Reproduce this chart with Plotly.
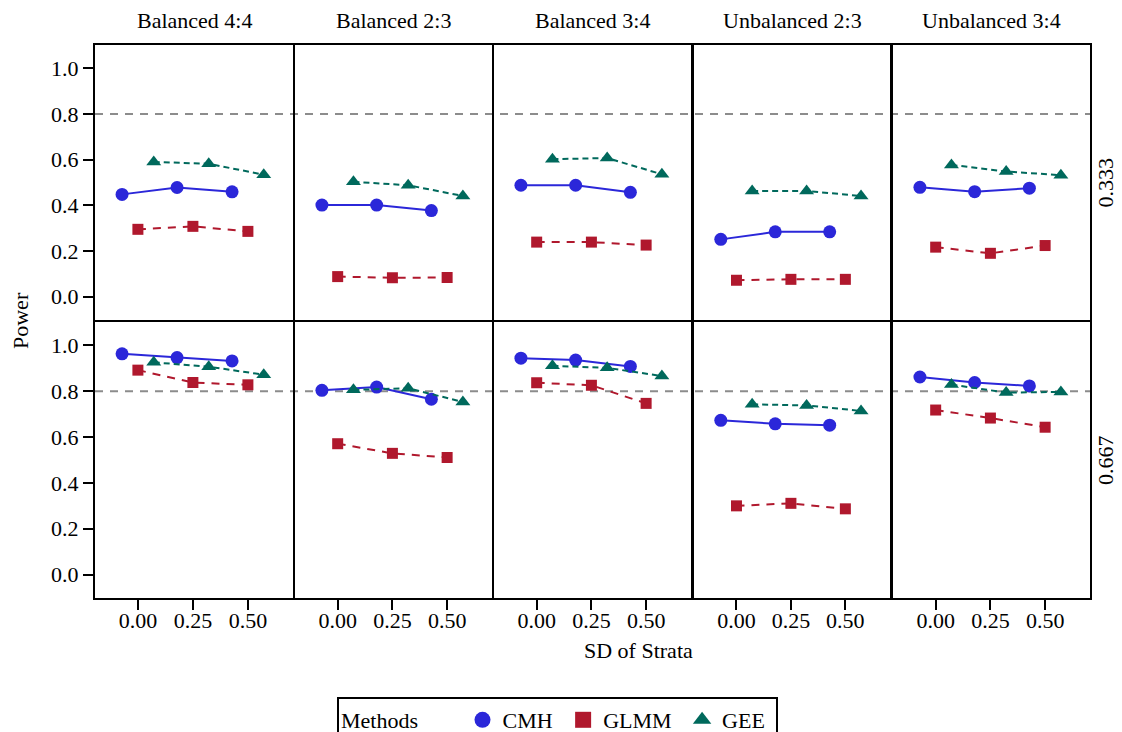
import plotly.graph_objects as go
from plotly.subplots import make_subplots

# Facet layout: columns = design, rows = allocation ratio
designs = ["Balanced 4:4", "Balanced 2:3", "Balanced 3:4", "Unbalanced 2:3", "Unbalanced 3:4"]
ratios = ["0.333", "0.667"]
sd_strata = [0.0, 0.25, 0.5]
sd_labels = ["0.00", "0.25", "0.50"]
power_ticks = [0.0, 0.2, 0.4, 0.6, 0.8, 1.0]
power_labels = ["0.0", "0.2", "0.4", "0.6", "0.8", "1.0"]
target_power = 0.8

# Power by design (outer list) and SD of strata (inner list)
cmh_333 = [[0.448, 0.478, 0.459], [0.401, 0.401, 0.377], [0.488, 0.488, 0.457],
           [0.251, 0.284, 0.284], [0.479, 0.460, 0.475]]
glmm_333 = [[0.295, 0.308, 0.286], [0.088, 0.083, 0.084], [0.239, 0.239, 0.226],
            [0.072, 0.076, 0.076], [0.217, 0.190, 0.224]]
gee_333 = [[0.590, 0.582, 0.534], [0.503, 0.488, 0.441], [0.602, 0.607, 0.536],
           [0.463, 0.463, 0.441], [0.577, 0.548, 0.532]]

cmh_667 = [[0.963, 0.947, 0.932], [0.804, 0.818, 0.765], [0.944, 0.936, 0.908],
           [0.673, 0.658, 0.652], [0.862, 0.838, 0.823]]
glmm_667 = [[0.892, 0.838, 0.828], [0.571, 0.529, 0.511], [0.837, 0.826, 0.747],
            [0.300, 0.311, 0.287], [0.718, 0.683, 0.643]]
gee_667 = [[0.926, 0.907, 0.872], [0.806, 0.813, 0.753], [0.911, 0.902, 0.866],
           [0.743, 0.738, 0.714], [0.829, 0.794, 0.797]]

W, H = 1122, 732
FONT = "Liberation Serif, Times New Roman, Times, serif"

methods = {
    "CMH": dict(data=[cmh_333, cmh_667], color="#2B27D9", symbol="circle", size=13,
                dash="solid", offset=-0.072),
    "GLMM": dict(data=[glmm_333, glmm_667], color="#B0182D", symbol="square", size=11,
                 dash="8px,7px", offset=0.0),
    "GEE": dict(data=[gee_333, gee_667], color="#00695C", symbol="triangle-up", size=13,
                dash="6px,4px", offset=0.072),
}

# panel edges in pixels
col_px = [(95, 293), (295, 492), (494, 691), (694, 890), (893, 1090)]
row_px = [(45, 320), (322, 598)]

fig = make_subplots(rows=2, cols=5)

for r in range(2):
    for c in range(5):
        for name, m in methods.items():
            fig.add_trace(
                go.Scatter(
                    x=[s + m["offset"] for s in sd_strata],
                    y=m["data"][r][c],
                    mode="lines+markers",
                    name=name,
                    legendgroup=name,
                    showlegend=False,
                    line=dict(color=m["color"], width=2, dash=m["dash"]),
                    marker=dict(color=m["color"], symbol=m["symbol"], size=m["size"]),
                ),
                row=r + 1, col=c + 1,
            )

# marker-only legend entries
for name, m in methods.items():
    fig.add_trace(
        go.Scatter(
            x=[None], y=[None], mode="markers", name=name + " ", legendgroup=name,
            showlegend=True,
            marker=dict(color=m["color"], symbol=m["symbol"], size=18),
        ),
        row=1, col=1,
    )

for r in range(2):
    for c in range(5):
        idx = r * 5 + c + 1
        xa = "xaxis" if idx == 1 else f"xaxis{idx}"
        ya = "yaxis" if idx == 1 else f"yaxis{idx}"
        x0, x1 = col_px[c]
        y0, y1 = row_px[r]
        fig.layout[xa].update(
            domain=[x0 / W, x1 / W], range=[-0.195, 0.705],
            showgrid=False, zeroline=False,
            showline=True, linecolor="black", linewidth=2, mirror=True,
            tickvals=sd_strata, ticktext=sd_labels,
            ticks="outside" if r == 1 else "", ticklen=10, tickwidth=2, tickcolor="black",
            showticklabels=(r == 1), ticklabelstandoff=-8,
            tickfont=dict(family=FONT, size=22, color="black"),
        )
        fig.layout[ya].update(
            domain=[1 - y1 / H, 1 - y0 / H], range=[-0.102, 1.102],
            showgrid=False, zeroline=False,
            showline=True, linecolor="black", linewidth=2, mirror=True,
            tickvals=power_ticks, ticktext=power_labels,
            ticks="outside" if c == 0 else "", ticklen=10, tickwidth=2, tickcolor="black",
            showticklabels=(c == 0),
            tickfont=dict(family=FONT, size=22, color="black"),
        )

# target power reference line across each row
for r in range(2):
    yref = "y" if r == 0 else "y6"
    fig.add_shape(
        type="line", xref="paper", yref=yref,
        x0=col_px[0][0] / W, x1=col_px[-1][1] / W, y0=target_power, y1=target_power,
        line=dict(color="#8C8C8C", width=2, dash="8px,7px"), layer="below",
    )

annotations = []
for c, d in enumerate(designs):
    annotations.append(dict(
        text=d, x=(col_px[c][0] + col_px[c][1]) / 2 / W, y=1 - 21 / H,
        xref="paper", yref="paper", showarrow=False,
        font=dict(family=FONT, size=22, color="black"),
        xanchor="center", yanchor="middle",
    ))
for r, lab in enumerate(ratios):
    annotations.append(dict(
        text=lab, x=1105 / W, y=1 - (row_px[r][0] + row_px[r][1]) / 2 / H,
        xref="paper", yref="paper", showarrow=False, textangle=-90,
        font=dict(family=FONT, size=22, color="black"),
        xanchor="center", yanchor="middle",
    ))
annotations.append(dict(
    text="Power", x=20 / W, y=1 - 321 / H, xref="paper", yref="paper",
    showarrow=False, textangle=-90, font=dict(family=FONT, size=22, color="black"),
    xanchor="center", yanchor="middle",
))
annotations.append(dict(
    text="SD of Strata", x=638 / W, y=1 - 650 / H, xref="paper", yref="paper",
    showarrow=False, font=dict(family=FONT, size=22, color="black"),
    xanchor="center", yanchor="middle",
))

fig.update_layout(
    width=W, height=H,
    margin=dict(l=0, r=0, t=0, b=0, autoexpand=False),
    paper_bgcolor="white", plot_bgcolor="white",
    font=dict(family=FONT, size=22, color="black"),
    annotations=annotations,
    legend=dict(
        orientation="h", x=337 / W, xanchor="left", y=1 - 697 / H, yanchor="top",
        title=dict(text="Methods       ", font=dict(family=FONT, size=22, color="black")),
        font=dict(family=FONT, size=22, color="black"),
        bordercolor="black", borderwidth=2, bgcolor="white",
    ),
)

fig.write_html("out.html")
